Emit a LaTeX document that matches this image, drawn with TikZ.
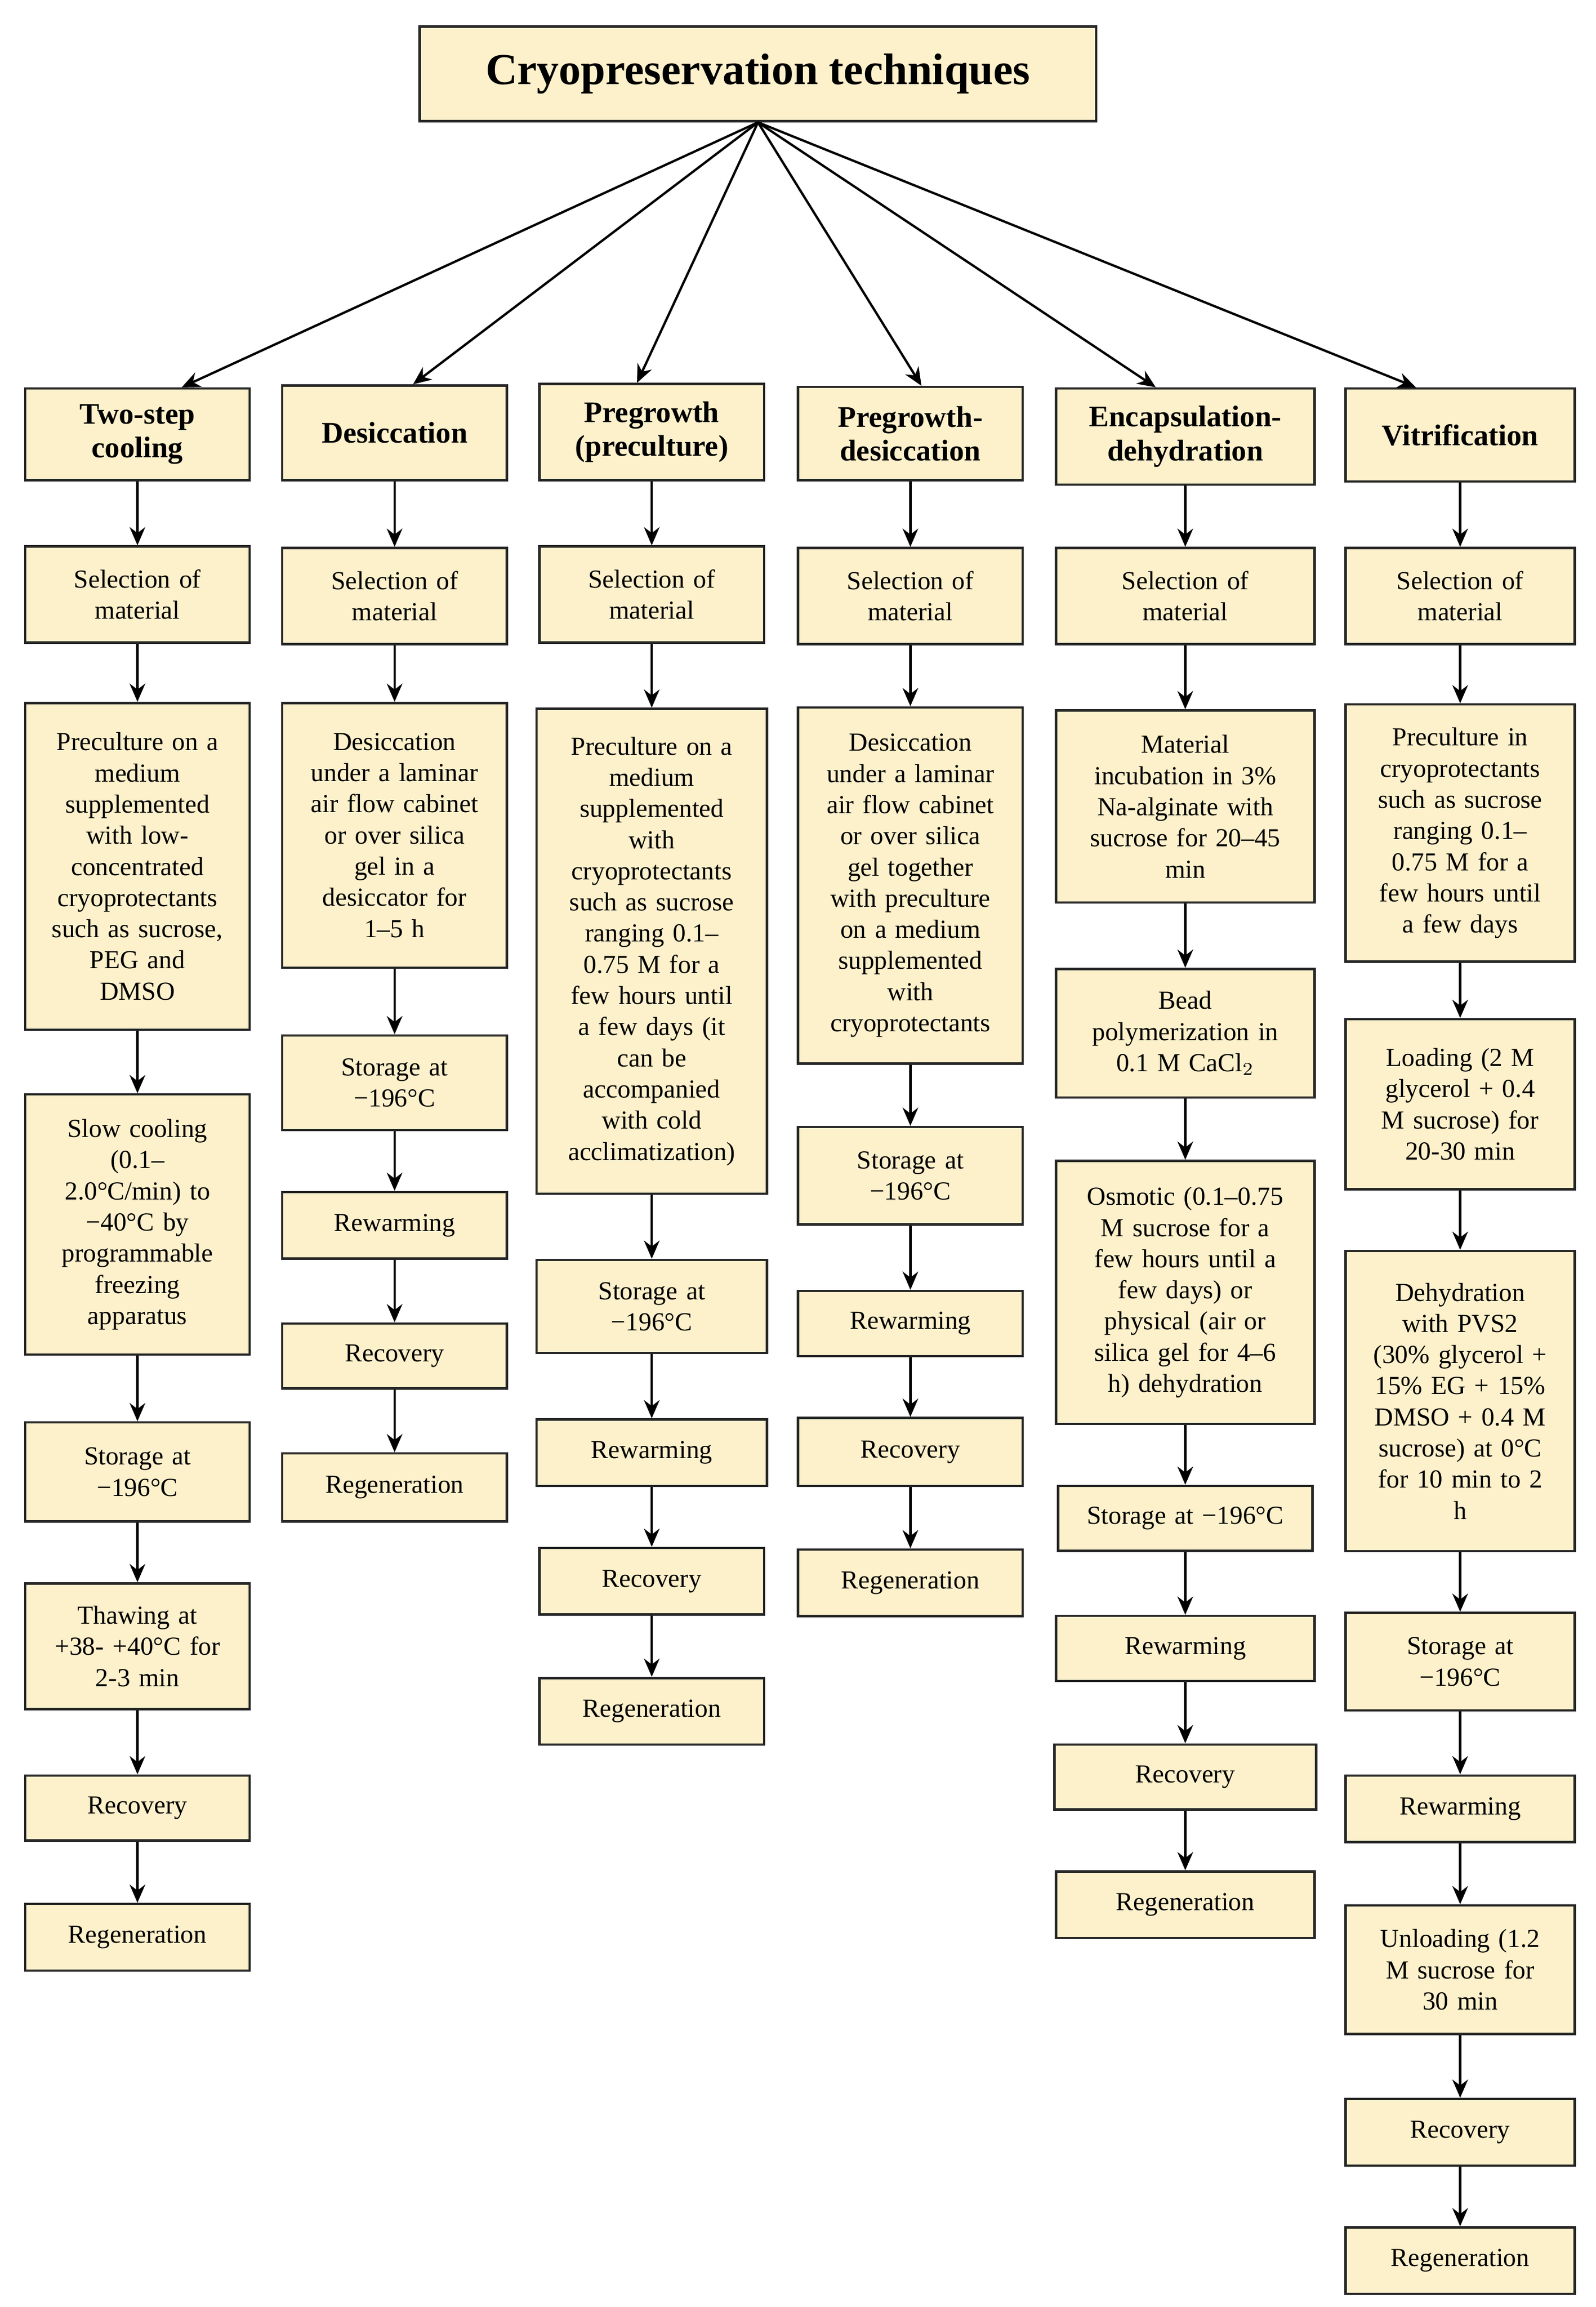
\documentclass[tikz,border=0pt]{standalone}
\usepackage{fontspec}
\setmainfont{Liberation Serif}
\usetikzlibrary{arrows.meta}
\definecolor{cream}{HTML}{FDF1CB}
\tikzset{
 box/.style={draw=black!85,line width=0.9pt,fill=cream,align=center,inner xsep=1pt,inner ysep=1pt,font=\fontsize{10}{12}\selectfont},
 head/.style={box,font=\fontsize{11.5}{13}\selectfont\bfseries},
 arr/.style={-{Stealth[length=7pt,width=6pt]},line width=0.9pt,black}
}
\newcommand\bx[7][box]{%
 \pgfmathsetmacro\tw{#6*0.02*28.4528-6}%
 \pgfmathsetmacro\bh{(#5-#4)*0.02}%
 \pgfmathsetmacro\bw{#6*0.02}%
 \node[#1,minimum width=\bw cm,text width=\tw pt,minimum height=\bh cm] (#2) at ({#3*0.02},{-(#4+#5)*0.01}) {#7};}
\begin{document}
\begin{tikzpicture}
\useasboundingbox (0,0) rectangle (21.6,-31.22);
\pgfmathsetmacro\tw{0}
\node[box,font=\fontsize{17}{20}\selectfont\bfseries,minimum width=9.16cm,minimum height=1.28cm] (T) at (10.26,-1.0) {Cryopreservation techniques};
% column 1
\bx[head]{a0}{93}{263}{325}{152}{Two-step\\cooling}
\bx{a1}{93}{370}{435}{152}{Selection of\\material}
\bx{a2}{93}{476}{697}{152}{Preculture on a\\medium\\supplemented\\with low-\\concentrated\\cryoprotectants\\such as sucrose,\\PEG and\\DMSO}
\bx{a3}{93}{741}{917}{152}{Slow cooling\\(0.1–\\2.0°C/min) to\\−40°C by\\programmable\\freezing\\apparatus}
\bx{a4}{93}{963}{1030}{152}{Storage at\\−196°C}
\bx{a5}{93}{1072}{1157}{152}{Thawing at\\+38- +40°C for\\2-3 min}
\bx{a6}{93}{1202}{1246}{152}{Recovery}
\bx{a7}{93}{1289}{1334}{152}{Regeneration}
% column 2
\bx[head]{b0}{267}{261}{325}{152}{Desiccation}
\bx{b1}{267}{371}{436}{152}{Selection of\\material}
\bx{b2}{267}{476}{655}{152}{Desiccation\\under a laminar\\air flow cabinet\\or over silica\\gel in a\\desiccator for\\1–5 h}
\bx{b3}{267}{701}{765}{152}{Storage at\\−196°C}
\bx{b4}{267}{807}{852}{152}{Rewarming}
\bx{b5}{267}{896}{940}{152}{Recovery}
\bx{b6}{267}{984}{1030}{152}{Regeneration}
% column 3
\bx[head]{c0}{441}{260}{325}{152}{Pregrowth\\(preculture)}
\bx{c1}{441}{370}{435}{152}{Selection of\\material}
\bx{c2}{441}{480}{808}{156}{Preculture on a\\medium\\supplemented\\with\\cryoprotectants\\such as sucrose\\ranging 0.1–\\0.75 M for a\\few hours until\\a few days (it\\can be\\accompanied\\with cold\\acclimatization)}
\bx{c3}{441}{853}{916}{156}{Storage at\\−196°C}
\bx{c4}{441}{961}{1006}{156}{Rewarming}
\bx{c5}{441}{1048}{1093}{152}{Recovery}
\bx{c6}{441}{1136}{1181}{152}{Regeneration}
% column 4
\bx[head]{d0}{616}{262}{325}{152}{Pregrowth-\\desiccation}
\bx{d1}{616}{371}{436}{152}{Selection of\\material}
\bx{d2}{616}{479}{720}{152}{Desiccation\\under a laminar\\air flow cabinet\\or over silica\\gel together\\with preculture\\on a medium\\supplemented\\with\\cryoprotectants}
\bx{d3}{616}{763}{829}{152}{Storage at\\−196°C}
\bx{d4}{616}{874}{918}{152}{Rewarming}
\bx{d5}{616}{960}{1006}{152}{Recovery}
\bx{d6}{616}{1049}{1094}{152}{Regeneration}
% column 5
\bx[head]{e0}{802}{263}{328}{175}{Encapsulation-\\dehydration}
\bx{e1}{802}{371}{436}{175}{Selection of\\material}
\bx{e2}{802}{481}{611}{175}{Material\\incubation in 3\%\\Na-alginate with\\sucrose for 20–45\\min}
\bx{e3}{802}{656}{743}{175}{Bead\\polymerization in\\0.1 M CaCl$_2$}
\bx{e4}{802}{786}{964}{175}{Osmotic (0.1–0.75\\M sucrose for a\\few hours until a\\few days) or\\physical (air or\\silica gel for 4–6\\h) dehydration}
\bx{e5}{802}{1006}{1050}{172}{Storage at −196°C}
\bx{e6}{802}{1094}{1138}{175}{Rewarming}
\bx{e7}{802}{1181}{1225}{177}{Recovery}
\bx{e8}{802}{1267}{1312}{175}{Regeneration}
% column 6
\bx[head]{f0}{988}{263}{326}{155}{Vitrification}
\bx{f1}{988}{371}{436}{155}{Selection of\\material}
\bx{f2}{988}{477}{651}{155}{Preculture in\\cryoprotectants\\such as sucrose\\ranging 0.1–\\0.75 M for a\\few hours until\\a few days}
\bx{f3}{988}{690}{805}{155}{Loading (2 M\\glycerol + 0.4\\M sucrose) for\\20-30 min}
\bx{f4}{988}{847}{1050}{155}{Dehydration\\with PVS2\\(30\% glycerol +\\15\% EG + 15\%\\DMSO + 0.4 M\\sucrose) at 0°C\\for 10 min to 2\\h}
\bx{f5}{988}{1092}{1158}{155}{Storage at\\−196°C}
\bx{f6}{988}{1202}{1247}{155}{Rewarming}
\bx{f7}{988}{1290}{1377}{155}{Unloading (1.2\\M sucrose for\\30 min}
\bx{f8}{988}{1421}{1466}{155}{Recovery}
\bx{f9}{988}{1508}{1553}{155}{Regeneration}
% arrows from title
\foreach \h/\dx in {a0/0.6,b0/0.25,c0/-0.2,d0/0.15,e0/-0.4,f0/-0.6}
  \draw[arr] (T.south) -- ([xshift=\dx cm]\h.north);
\foreach \c/\n in {a/7,b/6,c/6,d/6,e/8,f/9}{
  \foreach \i [evaluate=\i as \j using int(\i+1)] in {0,...,\n}{
    \pgfmathtruncatemacro\k{\i+1}
    \ifnum\k>\n\else\draw[arr] (\c\i.south) -- (\c\k.north);\fi
  }
}
\end{tikzpicture}
\end{document}
